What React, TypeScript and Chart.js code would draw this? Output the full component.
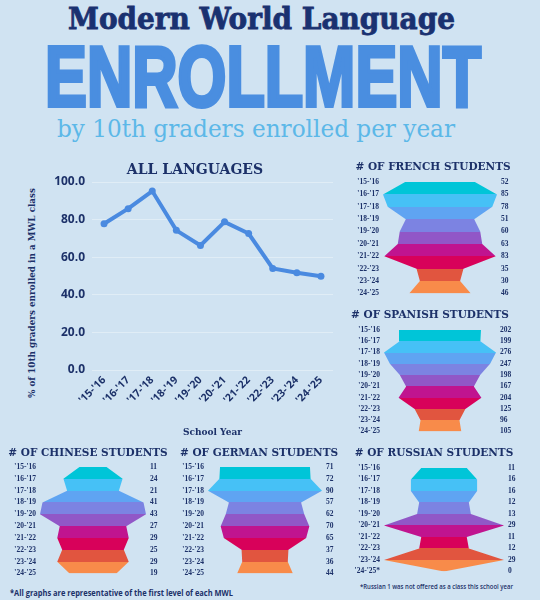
import React, { useEffect, useRef } from "react";
import { Chart, registerables } from "chart.js";

Chart.register(...registerables);

const years = ["'15-'16", "'16-'17", "'17-'18", "'18-'19", "'19-'20", "'20-'21", "'21-'22", "'22-'23", "'23-'24", "'24-'25"];
const russianYears = ["'15-'16", "'16-'17", "'17-'18", "'18-'19", "'19-'20", "'20-'21", "'21-'22", "'22-'23", "'23-'24", "'24-'25*"];
const allLanguages = [77.8, 85.8, 95.2, 74.3, 66.2, 78.8, 72.6, 54.0, 51.7, 49.9];
const yTicks = [0, 20, 40, 60, 80, 100];
const french = [52, 85, 78, 51, 60, 63, 83, 35, 30, 46];
const spanish = [202, 199, 276, 247, 198, 167, 204, 125, 96, 105];
const chinese = [11, 24, 21, 41, 43, 27, 29, 25, 29, 19];
const german = [71, 72, 90, 57, 62, 70, 65, 37, 36, 44];
const russian = [11, 16, 16, 12, 13, 29, 11, 12, 29, 0];
const bandColors = ["#00c5d8", "#46c1f6", "#5fa4f2", "#7c83e2", "#9157c7", "#c0148f", "#d8015a", "#e1553f", "#f88b4a"];

const NAVY = "#1c3169";
const BG = "#d0e3f2";

function bandFill(ctx: any) {
  const chart = ctx.chart;
  const ys = chart.scales && chart.scales.y;
  if (!chart.chartArea || !ys) return bandColors[0];
  const n = bandColors.length;
  const top = ys.getPixelForValue(0);
  const bottom = ys.getPixelForValue(n);
  const span = bottom - top || 1;
  const g = chart.ctx.createLinearGradient(0, top, 0, bottom);
  for (let i = 0; i < n; i++) {
    const s = Math.min(1, Math.max(0, (ys.getPixelForValue(i) - top) / span));
    const e = Math.min(1, Math.max(0, (ys.getPixelForValue(i + 1) - top) / span));
    g.addColorStop(s, bandColors[i]);
    g.addColorStop(e, bandColors[i]);
  }
  return g;
}

type FunnelProps = {
  title: string;
  labels: string[];
  values: number[];
  left: number;
  top: number;
  width: number;
  height: number;
  leftW: number;
  rightW: number;
  padTop: number;
  padBottom: number;
};

function Funnel(p: FunnelProps) {
  const ref = useRef<HTMLCanvasElement>(null);
  useEffect(() => {
    const max = Math.max(...p.values);
    const tickFont = { family: "Liberation Serif", weight: "bold" as const, size: 7.5 };
    const chart = new Chart(ref.current!, {
      type: "line",
      data: {
        labels: p.labels,
        datasets: [
          { data: p.values.map((v) => -v), borderWidth: 0, pointRadius: 0, fill: false },
          { data: p.values, borderWidth: 0, pointRadius: 0, fill: "-1", backgroundColor: bandFill as any },
        ],
      },
      options: {
        indexAxis: "y",
        animation: false,
        responsive: false,
        maintainAspectRatio: false,
        layout: { padding: { top: 0, bottom: 6, left: 0, right: 0 } },
        plugins: {
          legend: { display: false },
          tooltip: { enabled: false },
          title: {
            display: true,
            text: p.title,
            color: NAVY,
            font: { family: "DejaVu Serif", weight: "bold", size: 10.5, lineHeight: 1.2 },
            padding: { top: p.padTop, bottom: p.padBottom },
          },
        },
        scales: {
          x: { type: "linear", display: false, min: -max, max: max },
          y: {
            type: "category",
            position: "left",
            offset: false,
            grid: { display: false, drawTicks: false },
            border: { display: false },
            ticks: { color: NAVY, font: tickFont, padding: 4, autoSkip: false },
            afterFit: (s: any) => {
              s.width = p.leftW;
            },
          },
          yR: {
            type: "category",
            labels: p.values.map(String),
            position: "right",
            offset: false,
            grid: { display: false, drawTicks: false },
            border: { display: false },
            ticks: { color: NAVY, font: tickFont, padding: 4, autoSkip: false },
            afterFit: (s: any) => {
              s.width = p.rightW;
            },
          },
        },
      } as any,
    });
    return () => chart.destroy();
  }, []);
  return (
    <canvas
      ref={ref}
      width={p.width}
      height={p.height}
      style={{ position: "absolute", left: p.left, top: p.top, width: p.width, height: p.height }}
    />
  );
}

function LineChart() {
  const ref = useRef<HTMLCanvasElement>(null);
  useEffect(() => {
    const chart = new Chart(ref.current!, {
      type: "line",
      data: {
        labels: years,
        datasets: [
          {
            data: allLanguages,
            borderColor: "#4a8ae0",
            backgroundColor: "#4a8ae0",
            borderWidth: 4,
            pointRadius: 3.5,
            pointBorderWidth: 0,
            pointBackgroundColor: "#4a8ae0",
            tension: 0,
            fill: false,
          },
        ],
      },
      options: {
        animation: false,
        responsive: false,
        maintainAspectRatio: false,
        layout: { padding: 0 },
        plugins: {
          legend: { display: false },
          tooltip: { enabled: false },
          title: {
            display: true,
            text: "ALL LANGUAGES",
            color: NAVY,
            font: { family: "DejaVu Serif", weight: "bold", size: 14, lineHeight: 1.2 },
            padding: { top: 11.6, bottom: 3.6 },
          },
        },
        scales: {
          x: {
            offset: true,
            grid: { display: false, drawTicks: false },
            border: { display: false },
            ticks: {
              color: NAVY,
              font: { family: "Open Sans", weight: "bold", size: 10.5 },
              minRotation: 45,
              maxRotation: 45,
              padding: 4,
              autoSkip: false,
            },
            title: {
              display: true,
              text: "School Year",
              color: NAVY,
              font: { family: "DejaVu Serif", weight: "bold", size: 9 },
              padding: { top: 4, bottom: 4 },
            },
            afterFit: (s: any) => {
              s.height = 72;
            },
          },
          y: {
            min: 0,
            max: 100,
            afterBuildTicks: (s: any) => {
              s.ticks = yTicks.map((v) => ({ value: v }));
            },
            grid: { color: "rgba(255,255,255,0.35)", lineWidth: 1, drawTicks: false },
            border: { display: false },
            ticks: {
              color: NAVY,
              font: { family: "Open Sans", weight: "bold", size: 12 },
              padding: 7,
              callback: (v: any) => Number(v).toFixed(1),
            },
            afterFit: (s: any) => {
              s.width = 92;
            },
          },
          yPad: {
            type: "linear",
            position: "right",
            display: true,
            grid: { display: false, drawTicks: false },
            border: { display: false },
            ticks: { display: false },
            afterFit: (s: any) => {
              s.width = 57;
            },
          },
        },
      } as any,
    });
    return () => chart.destroy();
  }, []);
  return (
    <canvas
      ref={ref}
      width={390}
      height={292}
      style={{ position: "absolute", left: 0, top: 150, width: 390, height: 292 }}
    />
  );
}

export default function App() {
  useEffect(() => {
    document.body.style.margin = "0";
    document.body.style.background = BG;
  }, []);
  return (
    <div style={{ position: "fixed", left: 0, top: 0, width: 540, height: 600, background: BG, overflow: "hidden" }}>
      <svg width={540} height={600} style={{ position: "absolute", left: 0, top: 0 }}>
        <text
          x={68}
          y={29}
          textLength={387}
          lengthAdjust="spacingAndGlyphs"
          fill="#1a3170"
          stroke="#1a3170"
          strokeWidth={0.8}
          style={{ fontFamily: "DejaVu Serif", fontWeight: 700, fontSize: 29 }}
        >
          Modern World Language
        </text>
        <text
          x={45}
          y={106}
          textLength={436}
          lengthAdjust="spacingAndGlyphs"
          fill="#4a8ee0"
          stroke="#4a8ee0"
          strokeWidth={4}
          strokeLinejoin="miter"
          style={{ fontFamily: "Liberation Sans", fontWeight: 700, fontSize: 85 }}
        >
          ENROLLMENT
        </text>
        <text
          x={57}
          y={137}
          textLength={398}
          lengthAdjust="spacingAndGlyphs"
          fill="#5cb8e8"
          style={{ fontFamily: "DejaVu Serif", fontWeight: 400, fontSize: 25 }}
        >
          by 10th graders enrolled per year
        </text>
        <text
          transform="translate(35 293) rotate(-90)"
          x={0}
          y={0}
          textAnchor="middle"
          textLength={210}
          lengthAdjust="spacingAndGlyphs"
          fill={NAVY}
          style={{ fontFamily: "DejaVu Serif", fontWeight: 700, fontSize: 8.5 }}
        >
          % of 10th graders enrolled in a MWL class
        </text>
        <text
          x={10}
          y={596}
          textLength={223}
          lengthAdjust="spacingAndGlyphs"
          fill={NAVY}
          style={{ fontFamily: "Open Sans", fontWeight: 700, fontSize: 8 }}
        >
          *All graphs are representative of the first level of each MWL
        </text>
        <text
          x={360}
          y={589}
          textLength={153}
          lengthAdjust="spacingAndGlyphs"
          fill={NAVY}
          style={{ fontFamily: "Open Sans", fontWeight: 600, fontSize: 7 }}
        >
          *Russian 1 was not offered as a class this school year
        </text>
      </svg>
      <LineChart />
      <Funnel title="# OF FRENCH STUDENTS" labels={years} values={french} left={340} top={152} width={186} height={150} leftW={43} rightW={29} padTop={8.7} padBottom={8.7} />
      <Funnel title="# OF SPANISH STUDENTS" labels={years} values={spanish} left={334} top={300} width={192} height={140} leftW={50} rightW={30} padTop={8.7} padBottom={8.7} />
      <Funnel title="# OF CHINESE STUDENTS" labels={years} values={chinese} left={0} top={438} width={176} height={144} leftW={40} rightW={30} padTop={8.7} padBottom={7.7} />
      <Funnel title="# OF GERMAN STUDENTS" labels={years} values={german} left={176} top={438} width={166} height={144} leftW={32} rightW={20} padTop={8.7} padBottom={7.7} />
      <Funnel title="# OF RUSSIAN STUDENTS" labels={russianYears} values={russian} left={345} top={438} width={178} height={142} leftW={39} rightW={19} padTop={8.7} padBottom={8.7} />
    </div>
  );
}
